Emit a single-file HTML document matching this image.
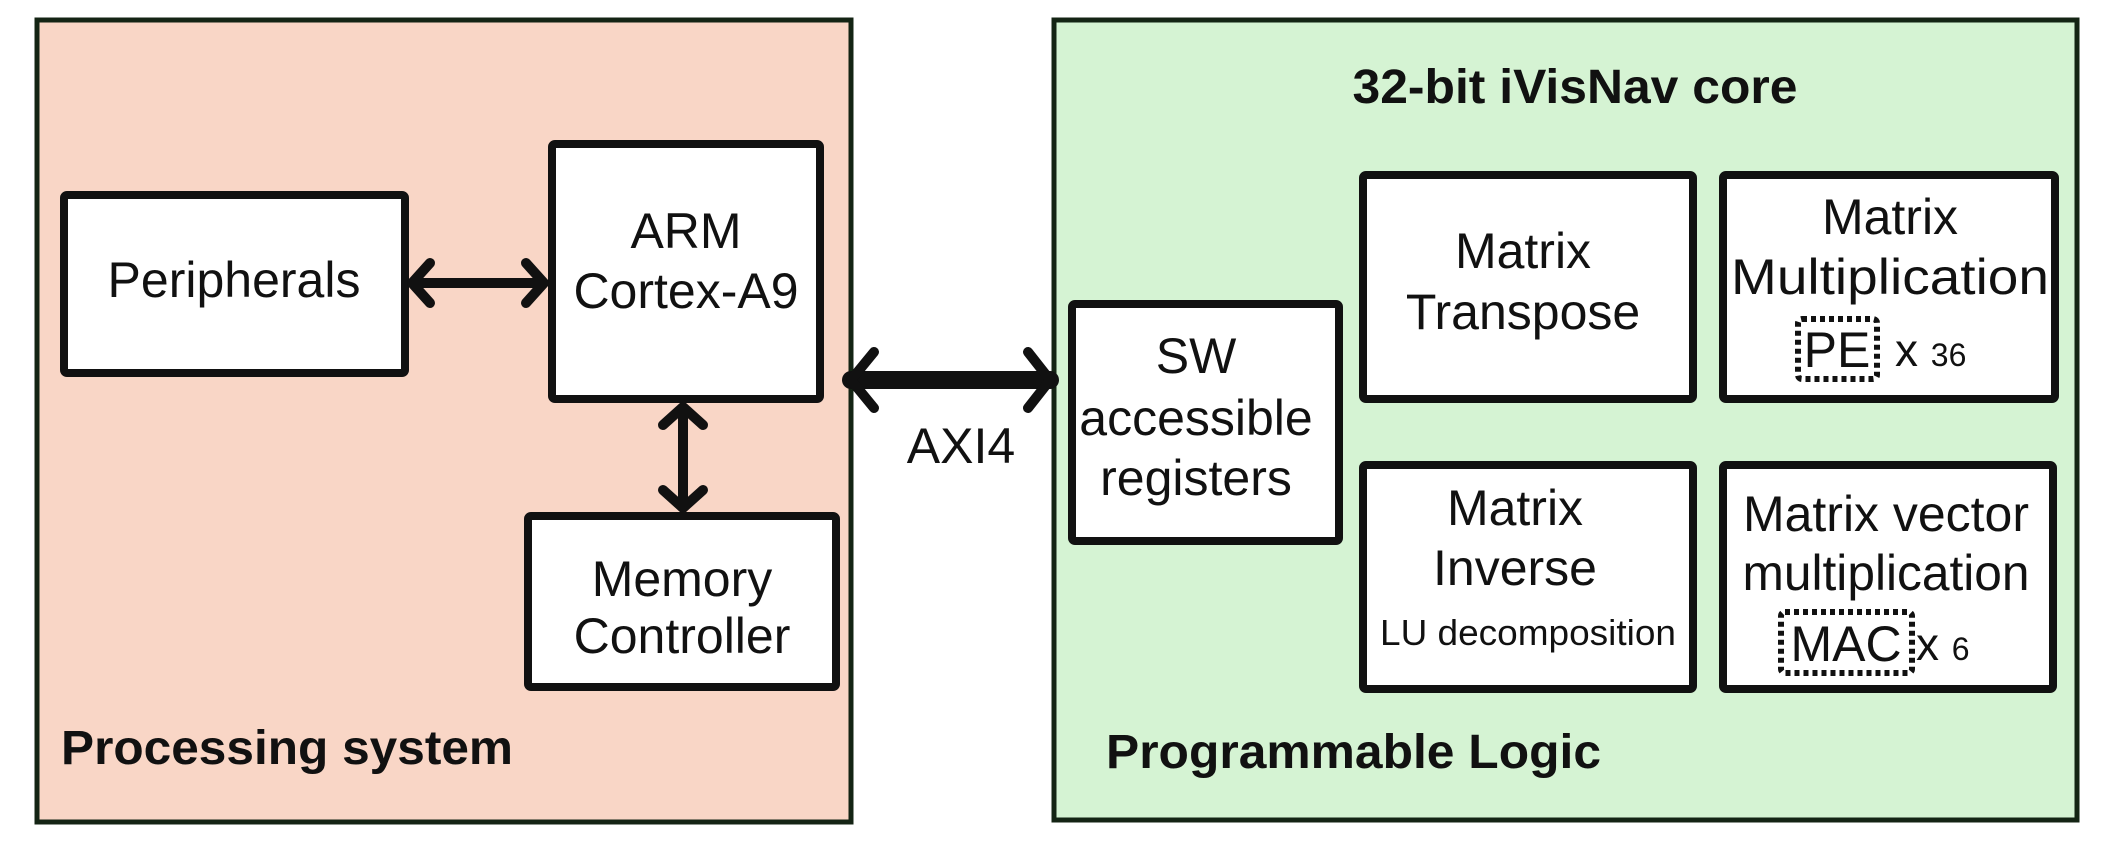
<!DOCTYPE html>
<html><head><meta charset="utf-8"><style>
html,body{margin:0;padding:0;background:#fff;}
svg{display:block;}
text{font-family:"Liberation Sans",sans-serif;fill:#111;}
</style></head><body>
<svg width="2107" height="847" viewBox="0 0 2107 847" xmlns="http://www.w3.org/2000/svg">
<rect x="37" y="20" width="814" height="802" fill="#f9d6c6" stroke="#142414" stroke-width="5"/>
<rect x="1054" y="20" width="1023" height="800" fill="#d5f3d3" stroke="#142414" stroke-width="5"/>
<g fill="#fff" stroke="#111" stroke-width="8" stroke-linejoin="round">
<rect x="64" y="195" width="341" height="178" rx="3"/>
<rect x="552" y="144" width="268" height="255" rx="3"/>
<rect x="528" y="516" width="308" height="171" rx="3"/>
<rect x="1072" y="304" width="267" height="237" rx="3"/>
<rect x="1363" y="175" width="330" height="224" rx="3"/>
<rect x="1723" y="175" width="332" height="224" rx="3"/>
<rect x="1363" y="465" width="330" height="224" rx="3"/>
<rect x="1723" y="465" width="330" height="224" rx="3"/>
</g>
<g fill="none" stroke="#111" stroke-linecap="round" stroke-linejoin="round">
<path d="M412 283H544M430 263L412 283L430 303M526 263L544 283L526 303" stroke-width="10"/>
<path d="M683 407V508M663 425L683 407L703 425M663 490L683 508L703 490" stroke-width="10"/>
<path d="M851 380H1050" stroke-width="18"/>
<path d="M874 352L851 380L874 408M1028 352L1050 380L1028 408" stroke-width="10"/>
</g>
<g fill="none" stroke="#111" stroke-width="6" stroke-dasharray="5,4">
<rect x="1798" y="319" width="79" height="60" rx="4"/>
<rect x="1781" y="612" width="131" height="61" rx="4"/>
</g>
<g font-size="50" text-anchor="middle">
<text x="234" y="297">Peripherals</text>
<text x="686" y="248">ARM</text>
<text x="686" y="308">Cortex-A9</text>
<text x="682" y="596">Memory</text>
<text x="682" y="653">Controller</text>
<text x="961" y="463">AXI4</text>
<text x="1196" y="373">SW</text>
<text x="1196" y="435">accessible</text>
<text x="1196" y="495">registers</text>
<text x="1523" y="268">Matrix</text>
<text x="1523" y="329">Transpose</text>
<text x="1890" y="234">Matrix</text>
<text x="1890" y="294" textLength="318" lengthAdjust="spacingAndGlyphs">Multiplication</text>
<text x="1515" y="525">Matrix</text>
<text x="1515" y="585">Inverse</text>
<text x="1886" y="531" textLength="286" lengthAdjust="spacingAndGlyphs">Matrix vector</text>
<text x="1886" y="590" textLength="287" lengthAdjust="spacingAndGlyphs">multiplication</text>
<text x="1837" y="367">PE</text>
<text x="1846" y="661">MAC</text>
</g>
<text x="1528" y="645" font-size="36" text-anchor="middle" textLength="296" lengthAdjust="spacingAndGlyphs">LU decomposition</text>
<text x="1895" y="366" font-size="46">x <tspan font-size="32">36</tspan></text>
<text x="1916" y="660" font-size="46">x <tspan font-size="32">6</tspan></text>
<g font-size="48" font-weight="bold">
<text x="61" y="764" textLength="452" lengthAdjust="spacingAndGlyphs">Processing system</text>
<text x="1106" y="768" textLength="495" lengthAdjust="spacingAndGlyphs">Programmable Logic</text>
<text x="1575" y="103" text-anchor="middle" textLength="445" lengthAdjust="spacingAndGlyphs">32-bit iVisNav core</text>
</g>
</svg>
</body></html>
